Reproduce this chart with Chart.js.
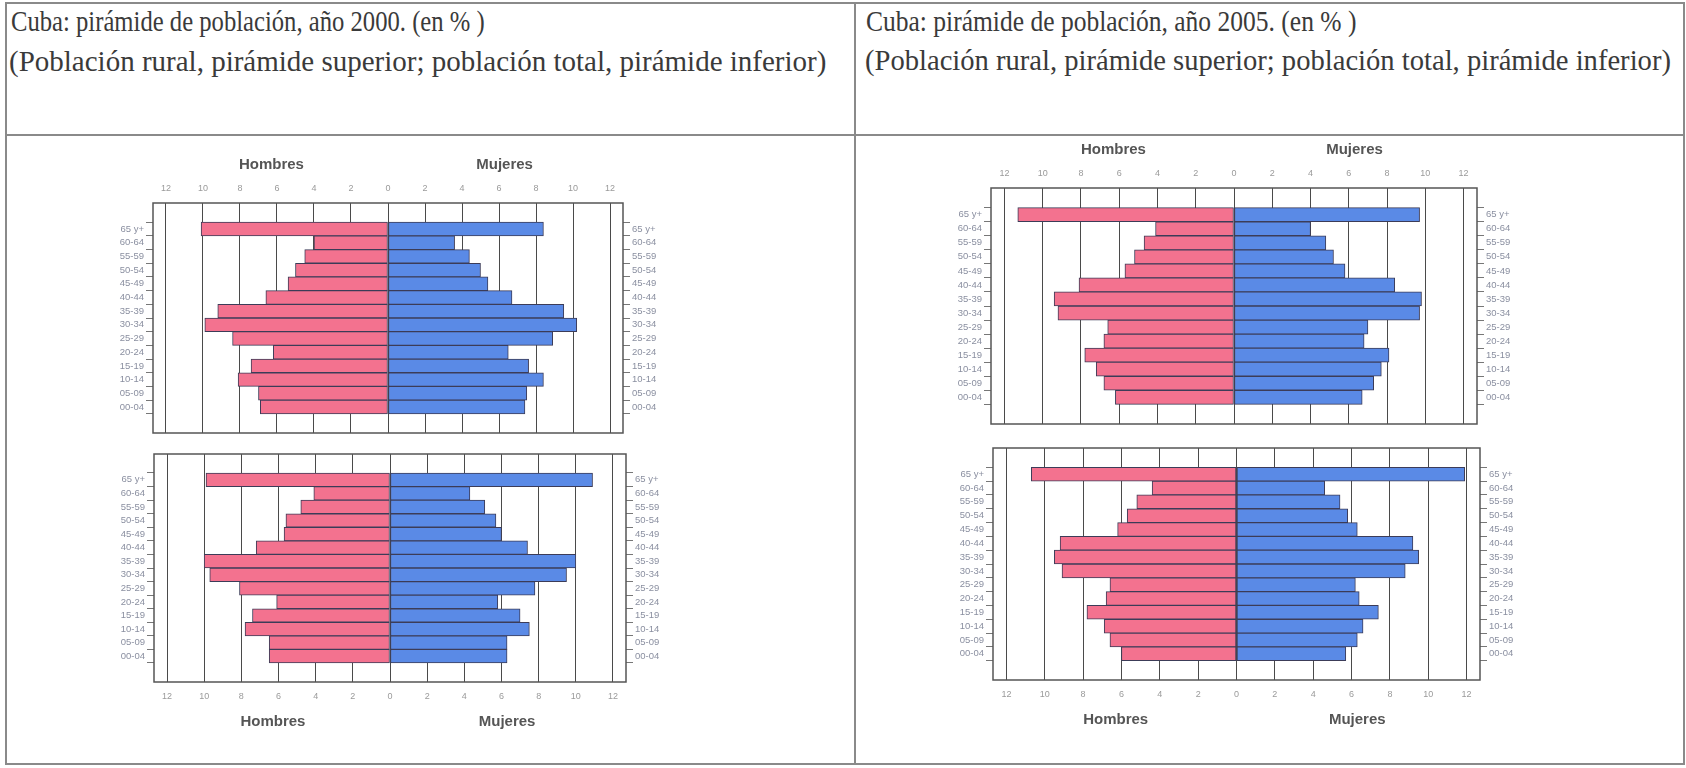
<!DOCTYPE html>
<html>
<head>
<meta charset="utf-8">
<script src="https://cdn.jsdelivr.net/npm/chart.js@4.4.1/dist/chart.umd.min.js"></script>
<style>
  body { margin: 0; width: 1686px; height: 768px; background: #fff; position: relative; overflow: hidden; }
  .box { position: absolute; border: 2px solid #8a8a8a; box-sizing: border-box; }
  .hdr { position: absolute; font-family: "Liberation Serif", serif; color: #3a3a3a; white-space: nowrap; font-size: 29px; }
  .narrow { transform: scaleX(0.85); transform-origin: left center; }
  .chartwrap { position: absolute; }
</style>
</head>
<body>
<!-- table borders -->
<div class="box" style="left:5px; top:2px; width:1680px; height:763px;"></div>
<div style="position:absolute; left:854px; top:2px; width:2px; height:763px; background:#8a8a8a;"></div>
<div style="position:absolute; left:5px; top:134px; width:1680px; height:2px; background:#8a8a8a;"></div>

<div class="hdr narrow" id="h1" style="left:11px; top:5px;"></div>
<div class="hdr" id="h2" style="left:9px; top:45px;"></div>
<div class="hdr" id="h3" style="left:866px; top:5px; transform:scaleX(0.88); transform-origin:left center;"></div>
<div class="hdr" id="h4" style="left:865px; top:45px; font-size:28.6px;"></div>

<div class="chartwrap" id="wLT"><canvas id="cLT"></canvas></div>
<div class="chartwrap" id="wLB"><canvas id="cLB"></canvas></div>
<div class="chartwrap" id="wRT"><canvas id="cRT"></canvas></div>
<div class="chartwrap" id="wRB"><canvas id="cRB"></canvas></div>

<script>
// Texts
const titles2000 = ['Cuba: pirámide de población, año 2000. (en % )',
    '(Población rural, pirámide superior; población total, pirámide inferior)'];
const titles2005 = ['Cuba: pirámide de población, año 2005. (en % )',
    '(Población rural, pirámide superior; población total, pirámide inferior)'];
const sideLabels = ['Hombres', 'Mujeres'];

// Age groups, top to bottom
const ages = ['65 y+', '60-64', '55-59', '50-54', '45-49', '40-44', '35-39',
    '30-34', '25-29', '20-24', '15-19', '10-14', '05-09', '00-04'];
const xTickValues = [-12, -10, -8, -6, -4, -2, 0, 2, 4, 6, 8, 10, 12];

// Values in %
const hombresRural2000 = [10.1, 4.0, 4.5, 5.0, 5.4, 6.6, 9.2, 9.9, 8.4, 6.2, 7.4, 8.1, 7.0, 6.9];
const mujeresRural2000 = [8.4, 3.6, 4.4, 5.0, 5.4, 6.7, 9.5, 10.2, 8.9, 6.5, 7.6, 8.4, 7.5, 7.4];
const hombresTotal2000 = [9.9, 4.1, 4.8, 5.6, 5.7, 7.2, 10.0, 9.7, 8.1, 6.1, 7.4, 7.8, 6.5, 6.5];
const mujeresTotal2000 = [10.9, 4.3, 5.1, 5.7, 6.0, 7.4, 10.0, 9.5, 7.8, 5.8, 7.0, 7.5, 6.3, 6.3];
const hombresRural2005 = [11.3, 4.1, 4.7, 5.2, 5.7, 8.1, 9.4, 9.2, 6.6, 6.8, 7.8, 7.2, 6.8, 6.2];
const mujeresRural2005 = [9.7, 4.0, 4.8, 5.2, 5.8, 8.4, 9.8, 9.7, 7.0, 6.8, 8.1, 7.7, 7.3, 6.7];
const hombresTotal2005 = [10.7, 4.4, 5.2, 5.7, 6.2, 9.2, 9.5, 9.1, 6.6, 6.8, 7.8, 6.9, 6.6, 6.0];
const mujeresTotal2005 = [11.9, 4.6, 5.4, 5.8, 6.3, 9.2, 9.5, 8.8, 6.2, 6.4, 7.4, 6.6, 6.3, 5.7];

document.getElementById('h1').textContent = titles2000[0];
document.getElementById('h2').textContent = titles2000[1];
document.getElementById('h3').textContent = titles2005[0];
document.getElementById('h4').textContent = titles2005[1];

// Frame box + Hombres / Mujeres labels
const framePlugin = {
    id: 'frame',
    afterDraw(chart, args, opts) {
        const ctx = chart.ctx;
        const a = chart.chartArea;
        const x = chart.scales.x;
        ctx.save();
        ctx.strokeStyle = '#555';
        ctx.lineWidth = 1.5;
        ctx.strokeRect(a.left, a.top, a.right - a.left, a.bottom - a.top);
        ctx.font = 'bold 15px "Liberation Sans"';
        ctx.fillStyle = '#555';
        ctx.textAlign = 'center';
        ctx.textBaseline = 'middle';
        const ty = opts.top ? a.top - 38 : a.bottom + 40;
        ctx.fillText(sideLabels[0], x.getPixelForValue(-6.3), ty);
        ctx.fillText(sideLabels[1], x.getPixelForValue(6.3), ty);
        ctx.restore();
    }
};

const Y_LEFT = 60;
const Y_RIGHT = 48;
const X_AXIS_H = 20;
const OUTER = 30;

function yAxis(position, width) {
    return {
        type: 'linear',
        position: position,
        reverse: true,
        min: -1.3,
        max: 14.3,
        afterBuildTicks: scale => { scale.ticks = ages.map((a, i) => ({ value: i })); },
        afterFit: scale => { scale.width = width; },
        grid: { drawOnChartArea: false, drawTicks: true, tickLength: 7, color: '#777' },
        border: { display: false },
        ticks: {
            autoSkip: false,
            padding: 2,
            color: '#8a8fa0',
            font: { family: 'Liberation Sans', size: 9.5 },
            callback: v => ages[v]
        }
    };
}

function makePyramid(id, hombres, mujeres, frame, xOnTop) {
    const wrap = document.getElementById('w' + id);
    const padTop = xOnTop ? OUTER : 10;
    const padBottom = xOnTop ? 10 : OUTER;
    wrap.style.left = (frame.l - Y_LEFT) + 'px';
    wrap.style.top = (frame.t - (xOnTop ? padTop + X_AXIS_H : padTop)) + 'px';
    wrap.style.width = (frame.w + Y_LEFT + Y_RIGHT) + 'px';
    wrap.style.height = (frame.h + X_AXIS_H + OUTER + 10) + 'px';

    return new Chart(document.getElementById('c' + id), {
        type: 'bar',
        data: {
            datasets: [{
                label: sideLabels[0],
                data: ages.map((a, i) => ({ x: -hombres[i], y: i })),
                backgroundColor: '#f3728f',
                borderColor: '#3c3c58',
                borderWidth: 1,
                borderSkipped: false,
                grouped: false,
                barPercentage: 1,
                categoryPercentage: 1
            }, {
                label: sideLabels[1],
                data: ages.map((a, i) => ({ x: mujeres[i], y: i })),
                backgroundColor: '#5a8ae6',
                borderColor: '#3c3c58',
                borderWidth: 1,
                borderSkipped: false,
                grouped: false,
                barPercentage: 1,
                categoryPercentage: 1
            }]
        },
        options: {
            indexAxis: 'y',
            responsive: true,
            maintainAspectRatio: false,
            animation: false,
            layout: { padding: { top: padTop, bottom: padBottom, left: 0, right: 0 } },
            plugins: {
                legend: { display: false },
                tooltip: { enabled: false },
                frame: { top: xOnTop }
            },
            scales: {
                x: {
                    type: 'linear',
                    position: xOnTop ? 'top' : 'bottom',
                    min: -12.7,
                    max: 12.7,
                    afterBuildTicks: scale => { scale.ticks = xTickValues.map(v => ({ value: v })); },
                    afterFit: scale => { scale.height = X_AXIS_H; },
                    grid: { color: '#4a4a4a', lineWidth: 1, drawTicks: false },
                    border: { display: false },
                    ticks: {
                        padding: 9,
                        color: '#9a9a9a',
                        font: { family: 'Liberation Sans', size: 9 },
                        callback: v => Math.abs(v)
                    }
                },
                y: yAxis('left', Y_LEFT),
                y2: yAxis('right', Y_RIGHT)
            }
        },
        plugins: [framePlugin]
    });
}

makePyramid('LT', hombresRural2000, mujeresRural2000, { l: 153, t: 203, w: 470, h: 230 }, true);
makePyramid('LB', hombresTotal2000, mujeresTotal2000, { l: 154, t: 454, w: 472, h: 228 }, false);
makePyramid('RT', hombresRural2005, mujeresRural2005, { l: 991, t: 188, w: 486, h: 236 }, true);
makePyramid('RB', hombresTotal2005, mujeresTotal2005, { l: 993, t: 448, w: 487, h: 232 }, false);
</script>
</body>
</html>
